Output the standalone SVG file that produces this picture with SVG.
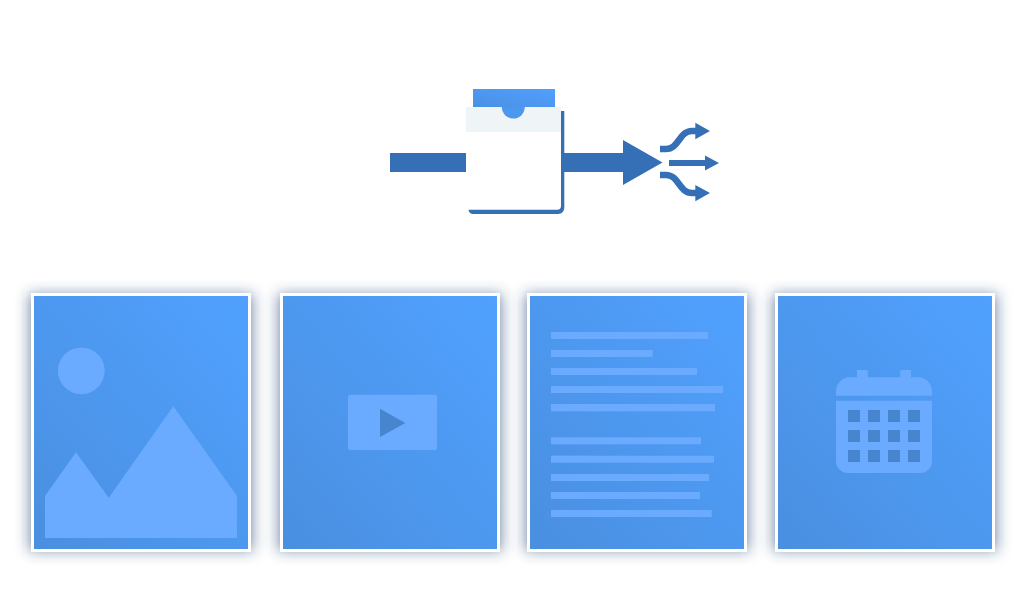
<svg xmlns="http://www.w3.org/2000/svg" width="1026" height="600" viewBox="0 0 1026 600">
<style>
.shade{fill:#23406f;fill-opacity:.56;filter:url(#sh)}
.frame{fill:#fff}
.panel{fill:url(#g)}
.art{fill:#6aabff}
.dark{fill:#4785cf}
.flow{fill:#3570b7}
.wire{fill:none;stroke:#3570b7;stroke-width:6.5}
</style>
<defs>
<linearGradient id="g" x1="0" y1="1" x2="1" y2="0"><stop offset="0" stop-color="#4a8fe0"/><stop offset="1" stop-color="#50a1ff"/></linearGradient>
<linearGradient id="g2" x1="0" y1="1" x2="1" y2="0"><stop offset="0" stop-color="#4a90e2"/><stop offset="1" stop-color="#50a0ff"/></linearGradient>
<filter id="sh" x="-20%" y="-20%" width="140%" height="140%"><feGaussianBlur stdDeviation="7"/></filter>
</defs>
<g id="image-card">
<rect class="shade" x="29" y="294" width="224" height="257"/>
<rect class="frame" x="31" y="293" width="220" height="259"/>
<rect class="panel" x="34" y="296" width="214" height="253"/>
<circle class="art" cx="81.3" cy="370.8" r="23.4"/>
<polygon class="art" points="45,496 76,452.3 108.7,497.7 173.3,406.3 237,496 237,538 45,538"/>
</g>
<g id="video-card">
<rect class="shade" x="278" y="294" width="224" height="257"/>
<rect class="frame" x="280" y="293" width="220" height="259"/>
<rect class="panel" x="283" y="296" width="214" height="253"/>
<rect class="art" x="348" y="394.7" width="89" height="55.3" rx="2"/>
<polygon class="dark" points="380,408.7 380,437 405.3,423"/>
</g>
<g id="text-card">
<rect class="shade" x="525" y="294" width="224" height="257"/>
<rect class="frame" x="527" y="293" width="220" height="259"/>
<rect class="panel" x="530" y="296" width="214" height="253"/>
<g class="art">
<rect x="551" y="332" width="157" height="7"/>
<rect x="551" y="350" width="101.7" height="7"/>
<rect x="551" y="368" width="146" height="7"/>
<rect x="551" y="386" width="172" height="7"/>
<rect x="551" y="404" width="164" height="7.3"/>
<rect x="551" y="437.3" width="150" height="7"/>
<rect x="551" y="455.7" width="163" height="7"/>
<rect x="551" y="474" width="158" height="7"/>
<rect x="551" y="492" width="149" height="7"/>
<rect x="551" y="510" width="160.7" height="7"/>
</g>
</g>
<g id="calendar-card">
<rect class="shade" x="773" y="294" width="224" height="257"/>
<rect class="frame" x="775" y="293" width="220" height="259"/>
<rect class="panel" x="778" y="296" width="214" height="253"/>
<path class="art" d="M857 377.3V370H867.7V377.3H900.3V370H911V377.3H918A14 14 0 0 1 932 391.3V395.7H836V391.3A14 14 0 0 1 850 377.3Z"/>
<path class="art" d="M836 400.7H932V461A12 12 0 0 1 920 473H848A12 12 0 0 1 836 461Z"/>
<g class="dark">
<rect x="848" y="410" width="12" height="12"/><rect x="868" y="410" width="12" height="12"/><rect x="888" y="410" width="12" height="12"/><rect x="908" y="410" width="12" height="12"/>
<rect x="848" y="430" width="12" height="12"/><rect x="868" y="430" width="12" height="12"/><rect x="888" y="430" width="12" height="12"/><rect x="908" y="430" width="12" height="12"/>
<rect x="848" y="450" width="12" height="12"/><rect x="868" y="450" width="12" height="12"/><rect x="888" y="450" width="12" height="12"/><rect x="908" y="450" width="12" height="12"/>
</g>
</g>
<g id="connectors">
<rect class="flow" x="390" y="153" width="76" height="19"/>
<polygon class="flow" points="562,153 623,153 623,140 662.5,162.5 623,185 623,172 562,172"/>
<path class="wire" d="M660 149H666C679 149 679 131 692 131H696"/>
<polygon class="flow" points="695.3,122.7 710,131 695.3,139.3"/>
<rect class="flow" x="669" y="160" width="37" height="6"/>
<polygon class="flow" points="705,155.5 719,163 705,170.5"/>
<path class="wire" d="M660 175H666C679 175 679 193 692 193H696"/>
<polygon class="flow" points="695.3,185 710,193 695.3,201.3"/>
</g>
<g id="document">
<path class="flow" d="M561 111H564.3V208A6 6 0 0 1 558.3 214H473A5 5 0 0 1 468.5 209.7H557A4 4 0 0 0 561 205.7Z"/>
<rect x="473" y="89" width="82" height="18" fill="url(#g2)"/>
<rect x="466" y="107" width="95" height="25" fill="#eff4f7"/>
<path d="M501.8 107A11.5 11.5 0 0 0 524.8 107Z" fill="#4c98ef"/>
</g>
</svg>
